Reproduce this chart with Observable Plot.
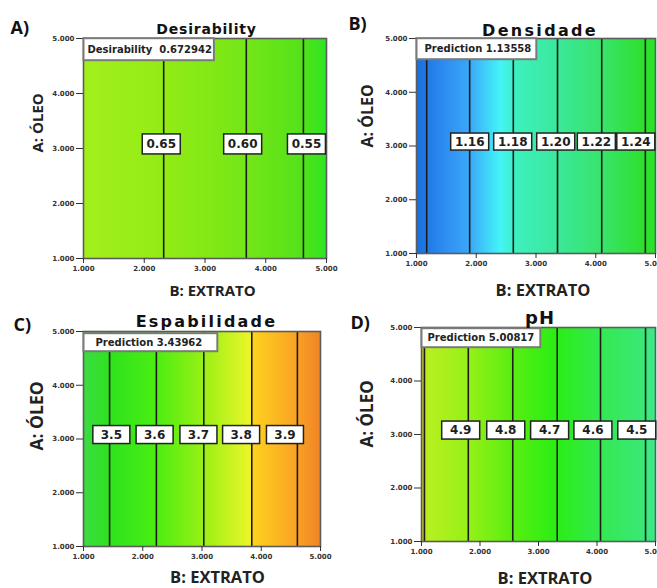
<!DOCTYPE html>
<html><head><meta charset="utf-8">
<script src="https://cdn.jsdelivr.net/npm/d3@7"></script>
<script src="https://cdn.jsdelivr.net/npm/@observablehq/plot@0.6"></script>
<style>
html,body{margin:0;padding:0;background:#fff;}
#wrap{position:relative;width:657px;height:588px;overflow:hidden;background:#fff;}
.panel{position:absolute;}
.panel svg{overflow:visible;display:block;}
</style></head><body><div id="wrap"></div>
<script>
// ---------- shared ----------
const xTicks = [1, 2, 3, 4, 5];
const yTicks = [1, 2, 3, 4, 5];
const xAxisLabel = "B: EXTRATO";
const yAxisLabel = "A: ÓLEO";
const panelLetters = ["A)", "B)", "C)", "D)"];
const panelTitles = ["Desirability", "Densidade", "Espabilidade", "pH"];
const annotNames = ["Desirability\u00a0 ", "Prediction ", "Prediction ", "Prediction "];
const annotValues = [0.672942, 1.13558, 3.43962, 5.00817];
const labelY = 3.08;

// ---------- A) Desirability ----------
const desirLineLevels = [0.65, 0.60, 0.55];
const desirLineX = [2.32, 3.68, 4.62];
const desirLabelLevels = [0.65, 0.60, 0.55];
const desirLabelX = [2.28, 3.62, 4.67];
const desirStopX = [1, 2.3, 3.7, 4.6, 5];
const desirStopColor = ["#a3ef1c", "#93ec15", "#74e617", "#54e21a", "#2de622"];

// ---------- B) Densidade ----------
const densLineLevels = [1.14, 1.16, 1.18, 1.20, 1.22, 1.24];
const densLineX = [1.17, 1.89, 2.62, 3.36, 4.10, 4.83];
const densLabelLevels = [1.16, 1.18, 1.20, 1.22, 1.24];
const densLabelX = [1.89, 2.61, 3.33, 4.01, 4.67];
const densStopX = [1, 1.5, 1.9, 2.4, 2.65, 3.4, 4.1, 4.8, 5];
const densStopColor = ["#1a6fe0", "#2f8ff2", "#3aaaf8", "#44f4f8", "#3ef0c0", "#3ae898", "#38e46c", "#2ee02e", "#28e428"];

// ---------- C) Espabilidade ----------
const espLineLevels = [3.5, 3.6, 3.7, 3.8, 3.9];
const espLineX = [1.44, 2.23, 3.03, 3.84, 4.61];
const espLabelLevels = [3.5, 3.6, 3.7, 3.8, 3.9];
const espLabelX = [1.47, 2.20, 2.94, 3.66, 4.40];
const espStopX = [1, 1.45, 2.2, 3.0, 3.8, 3.86, 4.6, 5];
const espStopColor = ["#3bdc42", "#2fe31e", "#4aed12", "#96f014", "#eaf52a", "#ffd21e", "#f9a224", "#f08426"];

// ---------- D) pH ----------
const phLineLevels = [5.0, 4.9, 4.8, 4.7, 4.6, 4.5];
const phLineX = [1.05, 1.80, 2.56, 3.32, 4.06, 4.83];
const phLabelLevels = [4.9, 4.8, 4.7, 4.6, 4.5];
const phLabelX = [1.67, 2.44, 3.19, 3.93, 4.68];
const phStopX = [1, 1.05, 1.1, 1.8, 2.55, 3.3, 4.05, 4.8, 5];
const phStopColor = ["#c8c828", "#c6d424", "#b8f020", "#96f018", "#5aee10", "#2aee14", "#34e850", "#3ae878", "#3ee88a"];

// ---------- layout ----------
const panels = [
  {left: 0, top: 0, w: 330, h: 300, ml: 83, mr: 4, mt: 38, mb: 42,
   lineLevels: desirLineLevels, lineX: desirLineX, labelLevels: desirLabelLevels, labelX: desirLabelX,
   stopX: desirStopX, stopColor: desirStopColor, fmt: d3.format(".2f"), bw: 38, bh: 20,
   aPadL: 4, aPadR: 2, aTop: 0, aH: 22,
   tDx: 1.5, tDy: -5, tFs: 14, tLs: 0.8, lDx: -73, lDy: -5,
   xlDx: 7.5, xlDy: 37, xlFs: 15, ylDx: -41, ylDy: 4, ylFs: 15},
  {left: 330, top: 0, w: 327, h: 300, ml: 86, mr: 2, mt: 38, mb: 47,
   lineLevels: densLineLevels, lineX: densLineX, labelLevels: densLabelLevels, labelX: densLabelX,
   stopX: densStopX, stopColor: densStopColor, fmt: d3.format(".2f"), bw: 38, bh: 17,
   aPadL: 8, aPadR: 5, aTop: 0, aH: 21,
   tDx: 4, tDy: -3, tFs: 16, tLs: 2.3, lDx: -68, lDy: -9,
   xlDx: 7, xlDy: 42, xlFs: 16.5, ylDx: -44, ylDy: 1.5, ylFs: 16},
  {left: 0, top: 300, w: 330, h: 288, ml: 83, mr: 10, mt: 31, mb: 42,
   lineLevels: espLineLevels, lineX: espLineX, labelLevels: espLabelLevels, labelX: espLabelX,
   stopX: espStopX, stopColor: espStopColor, fmt: d3.format(".1f"), bw: 37, bh: 18,
   aPadL: 12, aPadR: 15, aTop: 2, aH: 18,
   tDx: 4.5, tDy: -5, tFs: 16, tLs: 2.2, lDx: -70, lDy: -1,
   xlDx: 15.5, xlDy: 36, xlFs: 16.5, ylDx: -41, ylDy: 11.5, ylFs: 17.5},
  {left: 330, top: 300, w: 327, h: 288, ml: 91, mr: 2, mt: 27, mb: 47,
   lineLevels: phLineLevels, lineX: phLineX, labelLevels: phLabelLevels, labelX: phLabelX,
   stopX: phStopX, stopColor: phStopColor, fmt: d3.format(".1f"), bw: 38, bh: 18,
   aPadL: 6, aPadR: 6, aTop: 1, aH: 19,
   tDx: 1.5, tDy: -4, tFs: 18, tLs: 1, lDx: -71, lDy: 1,
   xlDx: 6.5, xlDy: 42, xlFs: 16.5, ylDx: -49, ylDy: 13, ylFs: 17}
];

const fmt3 = d3.format(".3f");
const wrap = document.getElementById("wrap");
const SVGNS = "http://www.w3.org/2000/svg";

function addBox(t, x, y, w, h, stroke, sw) {
  const r = document.createElementNS(SVGNS, "rect");
  r.setAttribute("x", x); r.setAttribute("y", y);
  r.setAttribute("width", w); r.setAttribute("height", h);
  r.setAttribute("fill", "#fff"); r.setAttribute("stroke", stroke);
  r.setAttribute("stroke-width", sw);
  const tr = t.getAttribute("transform");
  if (tr) r.setAttribute("transform", tr);
  t.parentNode.insertBefore(r, t);
}

panels.forEach((c, i) => {
  const plot = Plot.plot({
    width: c.w, height: c.h,
    marginLeft: c.ml, marginRight: c.mr, marginTop: c.mt, marginBottom: c.mb,
    x: {domain: [1, 5]},
    y: {domain: [1, 5]},
    color: {type: "linear", domain: c.stopX, range: c.stopColor, interpolate: "rgb"},
    style: {background: "transparent", overflow: "visible", fontFamily: "DejaVu Sans"},
    marks: [
      Plot.raster({fill: (x, y) => x, x1: 1, x2: 5, y1: 1, y2: 5}),
      Plot.ruleX(c.lineLevels, {x: c.lineX, stroke: "#1c1c1c", strokeWidth: 1.6}),
      Plot.frame({stroke: "#5c5c5c", strokeWidth: 1.6}),
      Plot.axisX({ticks: xTicks, tickFormat: fmt3, tickSize: 5, tickPadding: 3, fontSize: 7, fontWeight: "bold", color: "#333", label: null, ariaDescription: "ticks"}),
      Plot.axisY({ticks: yTicks, tickFormat: fmt3, tickSize: 7, tickPadding: 2, fontSize: 7, fontWeight: "bold", color: "#333", label: null, ariaDescription: "ticks"}),
      Plot.text(c.labelLevels, {x: c.labelX, y: labelY, text: d => c.fmt(d), fontSize: 12, fontWeight: "bold", fill: "#1e1e1e", lineAnchor: "middle", ariaDescription: "clabel"}),
      Plot.text([annotNames[i] + annotValues[i]], {frameAnchor: "top-left", dx: c.aPadL, dy: c.aTop + c.aH / 2, textAnchor: "start", lineAnchor: "middle", fontSize: 10, fontWeight: "bold", fill: "#222", ariaDescription: "annot"}),
      Plot.text([panelTitles[i]], {frameAnchor: "top", dx: c.tDx, dy: c.tDy, lineAnchor: "bottom", fontSize: c.tFs, fontWeight: "bold", fill: "#111", ariaDescription: "title"}),
      Plot.text([panelLetters[i]], {frameAnchor: "top-left", dx: c.lDx, dy: c.lDy, textAnchor: "start", lineAnchor: "bottom", fontSize: 18, fontWeight: "bold", fontFamily: "Open Sans", fill: "#111"}),
      Plot.text([xAxisLabel], {frameAnchor: "bottom", dx: c.xlDx, dy: c.xlDy, lineAnchor: "bottom", fontSize: c.xlFs, fontWeight: "bold", fontFamily: "Open Sans", fill: "#222"}),
      Plot.text([yAxisLabel], {frameAnchor: "left", rotate: -90, dx: c.ylDx, dy: c.ylDy, lineAnchor: "bottom", fontSize: c.ylFs, fontWeight: "bold", fontFamily: "Open Sans", fill: "#222"})
    ]
  });
  const div = document.createElement("div");
  div.className = "panel";
  div.style.left = c.left + "px";
  div.style.top = c.top + "px";
  div.appendChild(plot);
  wrap.appendChild(div);

  plot.querySelectorAll('g[aria-description="clabel"] text').forEach(t => {
    const bb = t.getBBox();
    addBox(t, bb.x + bb.width / 2 - c.bw / 2, bb.y + bb.height / 2 - c.bh / 2, c.bw, c.bh, "#222", 1.5);
  });
  plot.querySelectorAll('g[aria-description="annot"] text').forEach(t => {
    const bb = t.getBBox();
    addBox(t, bb.x - c.aPadL, bb.y + bb.height / 2 - c.aH / 2, bb.width + c.aPadL + c.aPadR, c.aH, "#7a7a7a", 2);
  });
  plot.querySelectorAll('g[aria-description="title"] text').forEach(t => {
    t.style.letterSpacing = c.tLs + "px";
  });
  plot.querySelectorAll('g[aria-description="ticks"] text').forEach(t => {
    t.style.fontWeight = "bold";
  });
});
</script>
</body></html>
